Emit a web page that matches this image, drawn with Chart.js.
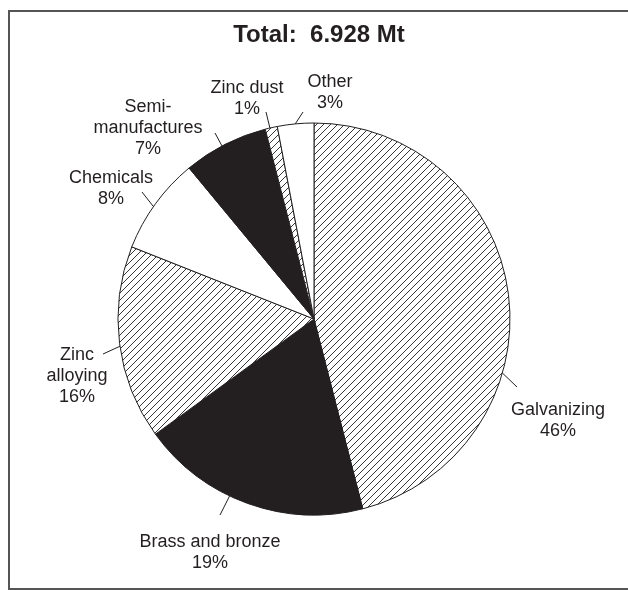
<!DOCTYPE html>
<html>
<head>
<meta charset="utf-8">
<script src="https://cdn.jsdelivr.net/npm/chart.js@4.4.0/dist/chart.umd.min.js"></script>
<style>
  html, body { margin: 0; padding: 0; background: #fff; overflow: hidden; }
  #wrap { width: 628px; height: 590px; }
</style>
</head>
<body>
<div id="wrap"><canvas id="use-pie" width="628" height="590"></canvas></div>
<script>
// zinc end uses, share of total (%)
const uses = ['Galvanizing', 'Brass and bronze', 'Zinc alloying', 'Chemicals', 'Semi-manufactures', 'Zinc dust', 'Other'];
const shares = [46, 19, 16, 8, 7, 1, 3];
const useLines = [['Galvanizing'], ['Brass and bronze'], ['Zinc', 'alloying'], ['Chemicals'], ['Semi-', 'manufactures'], ['Zinc dust'], ['Other']];
const fills = ['hatch', 'solid', 'hatch', 'blank', 'solid', 'hatch', 'blank'];
const totalText = 'Total:  6.928 Mt';

const ink = '#231f20';

// where each label sits: text centre x, first baseline, leader angle (deg from top) and leader end
const labelPos = [
    { x: 558, y: 415, ang: 106, ex: 517, ey: 387 },
    { x: 210, y: 547, ang: 205.5, ex: 220, ey: 515 },
    { x: 77, y: 360, ang: 262, ex: 103, ey: 354 },
    { x: 111, y: 183, ang: 305, ex: 142, ey: 192 },
    { x: 148, y: 112, ang: 332, ex: 215, ey: 133 },
    { x: 247, y: 93, ang: 347, ex: 266, ey: 112 },
    { x: 330, y: 87, ang: 354.5, ex: 303, ey: 112 }
];

function makeHatch() {
    const c = document.createElement('canvas');
    c.width = 7; c.height = 7;
    const g = c.getContext('2d');
    g.fillStyle = '#fff';
    g.fillRect(0, 0, 7, 7);
    g.strokeStyle = ink;
    g.lineWidth = 0.9;
    g.beginPath();
    g.moveTo(0, 7); g.lineTo(7, 0);
    g.moveTo(-1, 1); g.lineTo(1, -1);
    g.moveTo(6, 8); g.lineTo(8, 6);
    g.stroke();
    return g.createPattern(c, 'repeat');
}

const hatch = makeHatch();
const sliceColors = fills.map(f => f === 'hatch' ? hatch : (f === 'solid' ? ink : '#ffffff'));

const labelsPlugin = {
    id: 'labelsPlugin',
    afterDraw(chart) {
        const ctx = chart.ctx;
        const arc = chart.getDatasetMeta(0).data[0];
        const cx = arc.x, cy = arc.y, r = arc.outerRadius;
        ctx.save();

        // frame
        ctx.strokeStyle = '#555';
        ctx.lineWidth = 2;
        ctx.beginPath();
        ctx.moveTo(640, 11);
        ctx.lineTo(9, 11);
        ctx.lineTo(9, 589);
        ctx.lineTo(640, 589);
        ctx.stroke();

        // title
        ctx.fillStyle = ink;
        ctx.textAlign = 'center';
        ctx.textBaseline = 'alphabetic';
        ctx.font = 'bold 24px "Liberation Sans", Arial, sans-serif';
        ctx.fillText(totalText, 319, 42);

        // slice labels + leaders
        ctx.font = '18px "Liberation Sans", Arial, sans-serif';
        ctx.strokeStyle = ink;
        ctx.lineWidth = 1;
        labelPos.forEach((p, i) => {
            const a = p.ang * Math.PI / 180;
            ctx.beginPath();
            ctx.moveTo(cx + r * Math.sin(a), cy - r * Math.cos(a));
            ctx.lineTo(p.ex, p.ey);
            ctx.stroke();
            const lines = useLines[i].concat([shares[i] + '%']);
            lines.forEach((t, k) => ctx.fillText(t, p.x, p.y + k * 21));
        });
        ctx.restore();
    }
};

new Chart(document.getElementById('use-pie').getContext('2d'), {
    type: 'pie',
    data: {
        labels: uses,
        datasets: [{
            data: shares,
            backgroundColor: sliceColors,
            borderColor: ink,
            borderWidth: 1
        }]
    },
    options: {
        responsive: false,
        animation: false,
        radius: 196,
        layout: { padding: { left: 118, right: 118, top: 123, bottom: 75 } },
        plugins: {
            legend: { display: false },
            tooltip: { enabled: false },
            title: { display: false }
        }
    },
    plugins: [labelsPlugin]
});
</script>
</body>
</html>
